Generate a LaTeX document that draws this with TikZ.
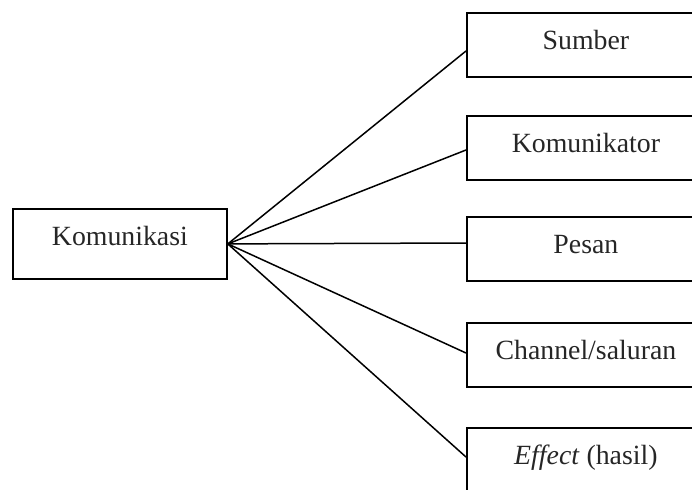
\documentclass[tikz,border=0pt]{standalone}
\usepackage{fontspec}
\setmainfont{Liberation Serif}
\begin{document}
\begin{tikzpicture}[x=1pt,y=-1pt,
  lbox/.style={draw, line width=1.8pt, inner sep=0pt, anchor=north west,
    minimum width=214pt, text height=36.5pt, text depth=33.5pt,
    font=\fontsize{27.8}{33}\selectfont, text=black!85},
  rbox/.style={draw, line width=1.8pt, inner sep=0pt, anchor=north west,
    minimum width=238pt, text height=36.5pt, text depth=27.5pt,
    font=\fontsize{27.8}{33}\selectfont, text=black!85},
  conn/.style={line width=1.5pt}]
\useasboundingbox (0,0) rectangle (692,489);
\clip (0,0) rectangle (692,489);
\node[lbox] (kom) at (12,208) {Komunikasi};
\node[rbox] (sum) at (466,12.5) {Sumber};
\node[rbox] (kmt) at (466,115) {Komunikator};
\node[rbox] (pes) at (466,216) {Pesan};
\node[rbox] (cha) at (466,322) {Channel/saluran};
\node[rbox] (eff) at (466,427) {\textit{Effect} (hasil)};
\draw[conn] (kom.east) -- ([yshift=-38.5pt]sum.north west);
\draw[conn] (kom.east) -- ([yshift=-35pt]kmt.north west);
\draw[conn] (kom.east) -- ([yshift=-27pt]pes.north west);
\draw[conn] (kom.east) -- ([yshift=-31pt]cha.north west);
\draw[conn] (kom.east) -- ([yshift=-30pt]eff.north west);
\end{tikzpicture}
\end{document}
